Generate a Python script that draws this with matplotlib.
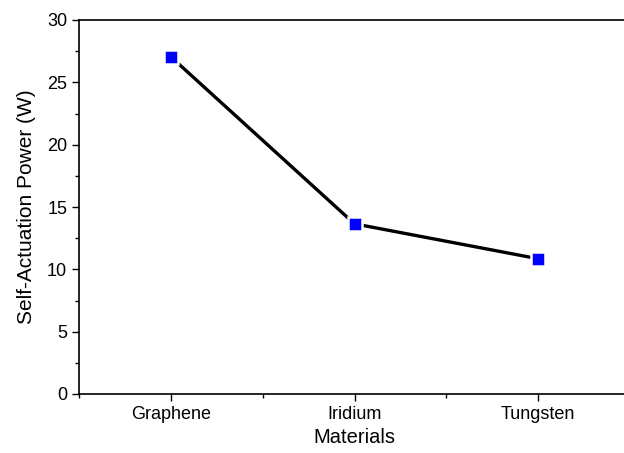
import numpy as np
import matplotlib
matplotlib.use("Agg")
import matplotlib.pyplot as plt
from matplotlib.ticker import MultipleLocator

plt.rcParams['font.family'] = ['Liberation Sans', 'DejaVu Sans']

# --- Datos ---
materials = ["Graphene", "Iridium", "Tungsten"]
power = [27.05, 13.65, 10.85]

fig = plt.figure(figsize=(6.24, 4.53), dpi=100)
# el eje derecho queda fuera de la imagen, como en la referencia
ax = fig.add_axes([79/624, 59/453, 551/624, 374/453])

x = np.arange(len(materials))
ax.plot(x, power, color='black', lw=2.4, zorder=2)
ax.plot(x, power, ls='none', marker='s', ms=9.5, mfc='#0000ff',
        mec='white', mew=1.8, zorder=3)

ax.set_xlim(-0.5, 2.5)
ax.set_ylim(0, 30)
ax.set_xticks(x)
ax.set_xticklabels(materials)
ax.xaxis.set_minor_locator(MultipleLocator(0.5))
ax.yaxis.set_major_locator(MultipleLocator(5))
ax.yaxis.set_minor_locator(MultipleLocator(2.5))

ax.tick_params(which='major', direction='out', length=5, width=1, labelsize=13, color='black')
ax.tick_params(which='minor', direction='out', length=3, width=1, color='black')
ax.spines['right'].set_visible(False)
for s in ax.spines.values():
    s.set_linewidth(1.2)

ax.set_xlabel('Materials', fontsize=14.5, labelpad=4)
ax.set_ylabel('Self-Actuation Power (W)', fontsize=15, labelpad=8)

plt.savefig('out.png', dpi=100)
plt.close()
